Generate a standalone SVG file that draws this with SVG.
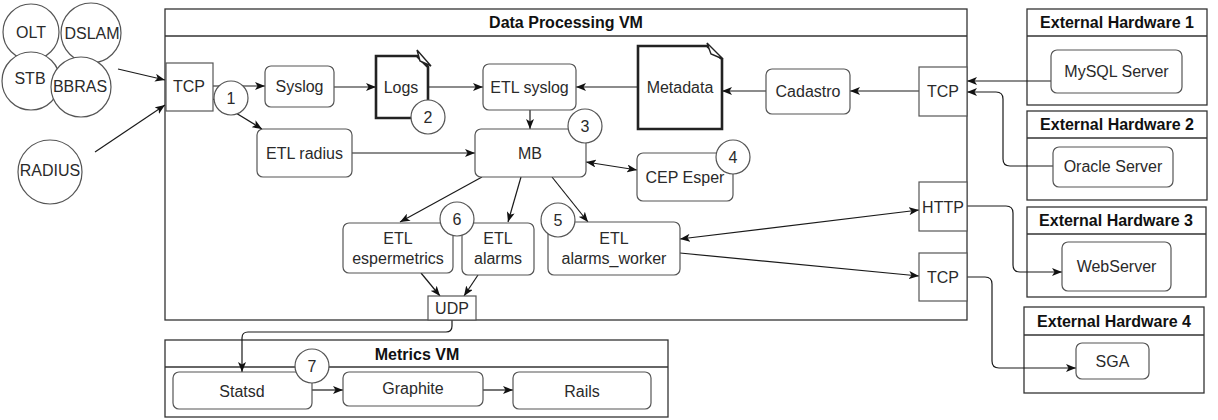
<svg xmlns="http://www.w3.org/2000/svg" width="1218" height="420" viewBox="0 0 1218 420">
<defs>
<style>
text{font-family:"Liberation Sans",Arial,sans-serif;font-size:16px;fill:#2a2a2a;text-anchor:middle}
.b{font-weight:bold;fill:#111}
.box{fill:#fff;stroke:#555;stroke-width:1.2}
.cont{fill:#fff;stroke:#333;stroke-width:1.3}
.note{fill:#fff;stroke:#222;stroke-width:2.6}
.fold{fill:#fff;stroke:#222;stroke-width:1.4}
.num{fill:#fff;stroke:#555;stroke-width:1.2}
.e{fill:none;stroke:#1a1a1a;stroke-width:1.2;marker-end:url(#arr)}
.e2{fill:none;stroke:#1a1a1a;stroke-width:1.2;marker-end:url(#arr);marker-start:url(#arr)}
</style>
<marker id="arr" markerUnits="userSpaceOnUse" markerWidth="10" markerHeight="8" refX="10" refY="4" orient="auto-start-reverse">
<path d="M0,0 L10,4 L0,8 L2.5,4 Z" fill="#111"/>
</marker>
</defs>
<rect width="1218" height="420" fill="#fff"/>

<!-- containers -->
<g id="dp-vm">
<rect class="cont" x="165" y="9" width="802" height="311"/>
<line x1="165" y1="36" x2="967" y2="36" stroke="#333" stroke-width="1.3"/>
<text class="b" x="566" y="28">Data Processing VM</text>
</g>
<g id="metrics-vm">
<rect class="cont" x="165" y="340" width="503" height="77"/>
<line x1="165" y1="367" x2="668" y2="367" stroke="#333" stroke-width="1.3"/>
<text class="b" x="417" y="360">Metrics VM</text>
</g>
<g id="ext1">
<rect class="cont" x="1027" y="9" width="180" height="96"/>
<line x1="1027" y1="36" x2="1207" y2="36" stroke="#333" stroke-width="1.3"/>
<text class="b" x="1117" y="28">External Hardware 1</text>
</g>
<g id="ext2">
<rect class="cont" x="1027" y="111" width="180" height="89"/>
<line x1="1027" y1="138" x2="1207" y2="138" stroke="#333" stroke-width="1.3"/>
<text class="b" x="1117" y="130">External Hardware 2</text>
</g>
<g id="ext3">
<rect class="cont" x="1027" y="207" width="179" height="90"/>
<line x1="1027" y1="234" x2="1206" y2="234" stroke="#333" stroke-width="1.3"/>
<text class="b" x="1116" y="226">External Hardware 3</text>
</g>
<g id="ext4">
<rect class="cont" x="1024" y="307" width="180" height="86"/>
<line x1="1024" y1="335" x2="1204" y2="335" stroke="#333" stroke-width="1.3"/>
<text class="b" x="1114" y="327">External Hardware 4</text>
</g>

<!-- connectors -->
<g id="connectors">
<path class="e" d="M118,69 L165,80"/>
<path class="e" d="M95,152 L165,105"/>
<path class="e" d="M213,86 L265,86"/>
<path class="e" d="M213,99 L262,129"/>
<path class="e" d="M334,87 L376,87"/>
<path class="e" d="M428,87 L483,87"/>
<path class="e" d="M638,87 L576,87"/>
<path class="e" d="M766,91 L722,91"/>
<path class="e" d="M919,91 L850,91"/>
<path class="e" d="M1051,81 L967,81"/>
<path class="e" d="M1053,166 H1010 Q1003,166 1003,159 V99 Q1003,92 996,92 H967"/>
<path class="e" d="M530,110 L530,129"/>
<path class="e" d="M352,153 L475,153"/>
<path class="e2" d="M586,162 L637,170"/>
<path class="e" d="M482,177 L400,222"/>
<path class="e" d="M521,177 L508,222"/>
<path class="e" d="M552,177 L588,222"/>
<path class="e" d="M421,273 L440,296"/>
<path class="e" d="M478,275 L464,296"/>
<path class="e2" d="M680,239 L919,210"/>
<path class="e" d="M680,253 L919,276"/>
<path class="e" d="M967,206 H1006 Q1013,206 1013,213 V265 Q1013,272 1020,272 H1062"/>
<path class="e" d="M967,277 H985 Q992,277 992,284 V361 Q992,368 999,368 H1076"/>
<path class="e" d="M452,320 V326 Q452,332 446,332 H248 Q242,332 242,338 V372"/>
<path class="e" d="M312,390 L343,390"/>
<path class="e" d="M483,390 L513,390"/>
</g>

<!-- source devices -->
<g id="olt"><circle class="num" cx="31" cy="32" r="28"/><text x="31" y="38">OLT</text></g>
<g id="dslam"><circle class="num" cx="91" cy="33" r="30"/><text x="92" y="39">DSLAM</text></g>
<g id="stb"><circle class="num" cx="31" cy="81" r="29"/><text x="30" y="84">STB</text></g>
<g id="bbras"><circle class="num" cx="81" cy="87" r="30"/><text x="80" y="92">BBRAS</text></g>
<g id="radius"><circle class="num" cx="50" cy="172" r="32"/><text x="50" y="176">RADIUS</text></g>

<!-- Data Processing VM nodes -->
<g id="tcp-in"><rect class="box" x="166" y="63" width="47" height="48"/><text x="189" y="92">TCP</text></g>
<g id="syslog"><rect class="box" x="265" y="66" width="69" height="41" rx="6"/><text x="299.5" y="92">Syslog</text></g>
<g id="etl-radius"><rect class="box" x="257" y="129" width="95" height="48" rx="6"/><text x="304.5" y="159">ETL radius</text></g>
<g id="logs">
<path class="note" d="M376,56 H417 L428,67 V118 H376 Z"/>
<path class="fold" d="M417,50 L431,66 L420,61 Z"/>
<text x="401" y="93">Logs</text>
</g>
<g id="etl-syslog"><rect class="box" x="483" y="64" width="93" height="46" rx="6"/><text x="529.5" y="93">ETL syslog</text></g>
<g id="metadata">
<path class="note" d="M638,46 H707 L722,59 V129 H638 Z"/>
<path class="fold" d="M707,43 L723,59 L711,54 Z"/>
<text x="680" y="93">Metadata</text>
</g>
<g id="cadastro"><rect class="box" x="766" y="69" width="84" height="45" rx="6"/><text x="808" y="97">Cadastro</text></g>
<g id="tcp-ext"><rect class="box" x="919" y="67" width="48" height="49"/><text x="943" y="97">TCP</text></g>
<g id="mb"><rect class="box" x="475" y="129" width="111" height="48" rx="6"/><text x="530" y="159">MB</text></g>
<g id="cep"><rect class="box" x="637" y="153" width="96" height="48" rx="6"/><text x="685" y="183">CEP Esper</text></g>
<g id="etl-espermetrics"><rect class="box" x="343" y="223" width="110" height="50" rx="6"/><text x="398" y="244">ETL</text><text x="398" y="264">espermetrics</text></g>
<g id="etl-alarms"><rect class="box" x="462" y="223" width="72" height="52" rx="6"/><text x="498" y="244">ETL</text><text x="498" y="264">alarms</text></g>
<g id="etl-alarms-worker"><rect class="box" x="548" y="222" width="132" height="53" rx="6"/><text x="614" y="244">ETL</text><text x="614" y="264">alarms_worker</text></g>
<g id="udp"><rect class="box" x="428" y="296" width="48" height="24"/><text x="452" y="314">UDP</text></g>
<g id="http"><rect class="box" x="919" y="182" width="48" height="49"/><text x="943" y="213">HTTP</text></g>
<g id="tcp-out"><rect class="box" x="919" y="253" width="48" height="48"/><text x="943" y="283">TCP</text></g>

<!-- external nodes -->
<g id="mysql"><rect class="box" x="1051" y="50" width="131" height="43" rx="6"/><text x="1116.5" y="77">MySQL Server</text></g>
<g id="oracle"><rect class="box" x="1053" y="147" width="120" height="40" rx="6"/><text x="1113" y="172">Oracle Server</text></g>
<g id="webserver"><rect class="box" x="1062" y="242" width="109" height="49" rx="6"/><text x="1116.5" y="272">WebServer</text></g>
<g id="sga"><rect class="box" x="1076" y="343" width="73" height="36" rx="6"/><text x="1112.5" y="367">SGA</text></g>

<!-- Metrics VM nodes -->
<g id="statsd"><rect class="box" x="173" y="372" width="139" height="37" rx="6"/><text x="242" y="397">Statsd</text></g>
<g id="graphite"><rect class="box" x="343" y="372" width="140" height="34" rx="6"/><text x="413" y="394">Graphite</text></g>
<g id="rails"><rect class="box" x="513" y="372" width="138" height="37" rx="6"/><text x="582" y="397">Rails</text></g>

<!-- step numbers -->
<g id="n1"><circle class="num" cx="231" cy="98" r="17"/><text x="231" y="104">1</text></g>
<g id="n2"><circle class="num" cx="428" cy="117" r="17"/><text x="428" y="123">2</text></g>
<g id="n3"><circle class="num" cx="585" cy="126" r="17"/><text x="585" y="132">3</text></g>
<g id="n4"><circle class="num" cx="733" cy="157" r="17"/><text x="733" y="163">4</text></g>
<g id="n5"><circle class="num" cx="558" cy="220" r="17"/><text x="558" y="226">5</text></g>
<g id="n6"><circle class="num" cx="457" cy="219" r="17"/><text x="457" y="225">6</text></g>
<g id="n7"><circle class="num" cx="312" cy="366" r="17"/><text x="312" y="372">7</text></g>
</svg>
